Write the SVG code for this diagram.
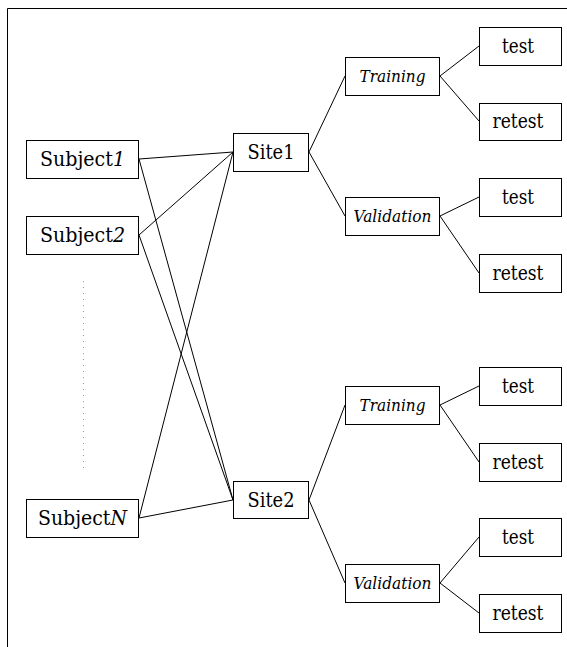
<svg xmlns="http://www.w3.org/2000/svg" width="567" height="647" viewBox="0 0 567 647">
<style>
.box{fill:#fff;stroke:#000;stroke-width:1}
text{font-family:'DejaVu Serif','Liberation Serif','Times New Roman',serif;fill:#000;text-anchor:middle}
.t{font-size:20px}
.i{font-size:16px;font-style:italic}
.c line{stroke:#000;stroke-width:1}
</style>
<rect width="567" height="647" fill="#fff"/>
<path d="M7.5 647 V8.5 H567" fill="none" stroke="#000" stroke-width="1"/>
<g class="c" id="connectors">
<line x1="139" y1="159" x2="233" y2="152"/>
<line x1="139" y1="159" x2="233" y2="500"/>
<line x1="139" y1="235" x2="233" y2="152"/>
<line x1="139" y1="235" x2="233" y2="500"/>
<line x1="139" y1="518" x2="233" y2="152"/>
<line x1="139" y1="518" x2="233" y2="500"/>
<line x1="309" y1="152" x2="345" y2="76"/>
<line x1="309" y1="152" x2="345" y2="216"/>
<line x1="309" y1="500" x2="345" y2="405"/>
<line x1="309" y1="500" x2="345" y2="583"/>
<line x1="440" y1="76" x2="479" y2="46"/>
<line x1="440" y1="76" x2="479" y2="121"/>
<line x1="440" y1="216" x2="479" y2="197"/>
<line x1="440" y1="216" x2="479" y2="273"/>
<line x1="440" y1="405" x2="479" y2="386"/>
<line x1="440" y1="405" x2="479" y2="462"/>
<line x1="440" y1="583" x2="479" y2="537"/>
<line x1="440" y1="583" x2="479" y2="613"/>
</g>
<line x1="83.5" y1="281" x2="83.5" y2="470" stroke="#999" stroke-width="1" stroke-dasharray="1 5"/>
<g id="subject1"><rect class="box" x="26.5" y="140.5" width="112" height="38"/><text class="t" x="82.5" y="166" textLength="85" lengthAdjust="spacingAndGlyphs">Subject<tspan font-style="italic">1</tspan></text></g>
<g id="subject2"><rect class="box" x="26.5" y="216.5" width="112" height="38"/><text class="t" x="82.5" y="242" textLength="85" lengthAdjust="spacingAndGlyphs">Subject<tspan font-style="italic">2</tspan></text></g>
<g id="subjectN"><rect class="box" x="26.5" y="499.5" width="112" height="38"/><text class="t" x="82.5" y="525" textLength="89" lengthAdjust="spacingAndGlyphs">Subject<tspan font-style="italic">N</tspan></text></g>
<g id="site1"><rect class="box" x="233.5" y="133.5" width="75" height="38"/><text class="t" x="271" y="159" textLength="47" lengthAdjust="spacingAndGlyphs">Site1</text></g>
<g id="site2"><rect class="box" x="233.5" y="481.5" width="75" height="37"/><text class="t" x="271" y="507" textLength="47" lengthAdjust="spacingAndGlyphs">Site2</text></g>
<g id="training1"><rect class="box" x="345.5" y="57.5" width="94" height="38"/><text class="i" x="392.5" y="82" textLength="66" lengthAdjust="spacingAndGlyphs">Training</text></g>
<g id="validation1"><rect class="box" x="345.5" y="197.5" width="94" height="38"/><text class="i" x="392.5" y="222" textLength="78" lengthAdjust="spacingAndGlyphs">Validation</text></g>
<g id="training2"><rect class="box" x="345.5" y="386.5" width="94" height="38"/><text class="i" x="392.5" y="411" textLength="66" lengthAdjust="spacingAndGlyphs">Training</text></g>
<g id="validation2"><rect class="box" x="345.5" y="564.5" width="94" height="38"/><text class="i" x="392.5" y="589" textLength="78" lengthAdjust="spacingAndGlyphs">Validation</text></g>
<g id="test1"><rect class="box" x="479.5" y="27.5" width="82" height="38"/><text class="t" x="518" y="53" textLength="32" lengthAdjust="spacingAndGlyphs">test</text></g>
<g id="retest1"><rect class="box" x="479.5" y="103.5" width="82" height="37"/><text class="t" x="518" y="128" textLength="51" lengthAdjust="spacingAndGlyphs">retest</text></g>
<g id="test2"><rect class="box" x="479.5" y="178.5" width="82" height="38"/><text class="t" x="518" y="204" textLength="32" lengthAdjust="spacingAndGlyphs">test</text></g>
<g id="retest2"><rect class="box" x="479.5" y="254.5" width="82" height="38"/><text class="t" x="518" y="280" textLength="51" lengthAdjust="spacingAndGlyphs">retest</text></g>
<g id="test3"><rect class="box" x="479.5" y="367.5" width="82" height="38"/><text class="t" x="518" y="393" textLength="32" lengthAdjust="spacingAndGlyphs">test</text></g>
<g id="retest3"><rect class="box" x="479.5" y="443.5" width="82" height="38"/><text class="t" x="518" y="469" textLength="51" lengthAdjust="spacingAndGlyphs">retest</text></g>
<g id="test4"><rect class="box" x="479.5" y="518.5" width="82" height="38"/><text class="t" x="518" y="544" textLength="32" lengthAdjust="spacingAndGlyphs">test</text></g>
<g id="retest4"><rect class="box" x="479.5" y="594.5" width="82" height="38"/><text class="t" x="518" y="620" textLength="51" lengthAdjust="spacingAndGlyphs">retest</text></g>
</svg>
